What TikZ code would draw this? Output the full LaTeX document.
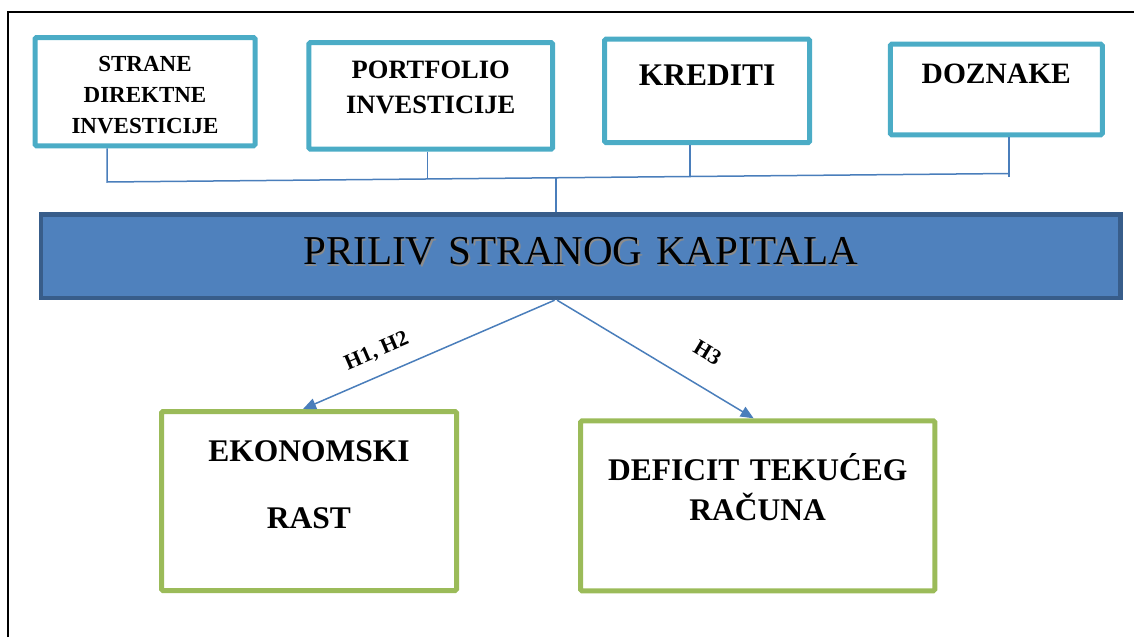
\documentclass[tikz,border=0pt]{standalone}
\usepackage{fontspec}
\setmainfont{Liberation Serif}
\usetikzlibrary{arrows.meta}
\tikzset{>={Triangle[length=13pt, width=11pt]}}
\definecolor{aqua}{HTML}{4BACC6}
\definecolor{bluefill}{HTML}{4F81BD}
\definecolor{blueedge}{HTML}{385D8A}
\definecolor{leaf}{HTML}{9BBB59}
\definecolor{wire}{HTML}{4A7EBB}
\newcommand{\fsz}[2]{\fontsize{#1}{#2}\selectfont}
\newcommand{\shadowed}[1]{\makebox[0pt][l]{\kern1.5pt\raisebox{-1.5pt}{\textcolor{black!45}{#1}}}#1}

\begin{document}
\begin{tikzpicture}[x = 1pt, y = -1pt,
    srcbox/.style = {draw = aqua, line width = 5pt, rounded corners = 1.5pt,
        inner sep = 0pt, align = center, anchor = north west},
    mainbox/.style = {draw = blueedge, fill = bluefill, line width = 4.5pt,
        inner sep = 0pt, align = center, anchor = north west},
    goalbox/.style = {draw = leaf, line width = 5pt, rounded corners = 1.5pt,
        inner sep = 0pt, align = center, anchor = north west},
    busline/.style = {draw = wire, line width = 1.5pt},
    flow/.style = {draw = wire, line width = 1.5pt, ->},
    hyp/.style = {font = \bfseries\fsz{22}{26}, inner sep = 0pt,
        text height = 14pt, text depth = 0pt}]
    \useasboundingbox (0,0) rectangle (1134,637);
    \draw[line width = 1.5pt] (8,637) -- (8,12) -- (1134,12);

    \node (sdi) at (32.5,35) [srcbox, text width = 220pt, text height = 33.5pt,
        text depth = 74.8pt, font = \bfseries\fsz{23}{31}]
        {STRANE\\DIREKTNE\\INVESTICIJE};
    \node (pinv) at (306.3,40) [srcbox, text width = 243.9pt, text height = 35.8pt,
        text depth = 70.9pt, font = \bfseries\fsz{26.5}{35}]
        {PORTFOLIO\\INVESTICIJE};
    \node (kred) at (602,36.7) [srcbox, text width = 205.2pt, text height = 45.8pt,
        text depth = 57.5pt, font = \bfseries\fsz{31.5}{38}] {KREDITI};
    \node (doz) at (887.8,41.7) [srcbox, text width = 212pt, text height = 39.1pt,
        text depth = 51.5pt, font = \bfseries\fsz{29.5}{36}] {DOZNAKE};

    \node (priliv) at (38.7,212.3) [mainbox, text width = 1079.3pt, text height = 50.2pt,
        text depth = 33.2pt, font = \fsz{41}{48}] {\shadowed{PRILIV STRANOG KAPITALA}};

    \node (ekon) at (159,409) [goalbox, text width = 295pt, text height = 50.2pt,
        text depth = 128.8pt, font = \bfseries\fsz{31.5}{66.6}]
        {EKONOMSKI\\RAST};
    \node (def) at (578,418.3) [goalbox, text width = 354.3pt, text height = 59.2pt,
        text depth = 110.8pt, font = \bfseries\fsz{31.5}{40}]
        {DEFICIT TEKUĆEG\\RAČUNA};

    \coordinate (busL) at (107,182);
    \coordinate (busR) at (1009,173.5);
    \coordinate (b2) at (427.5,179);
    \coordinate (b3) at (690,176.5);
    \coordinate (bc) at (556,177.8);
    \draw[busline] (sdi.south -| busL) -- (busL) -- (busR);
    \draw[busline] (doz.south -| busR) -- ++(0,40);
    \draw[busline] (pinv.south -| b2) -- (b2);
    \draw[busline] (kred.south -| b3) -- (b3);
    \draw[busline] (bc) -- (priliv.north -| bc);

    \draw[flow] ([xshift = -26pt]priliv.south) -- ([xshift = -6pt]ekon.north)
        node[hyp, pos = 0.67, sloped, above = 17pt] {H1, H2};
    \draw[flow] ([xshift = -23.5pt]priliv.south) -- ([xshift = -4pt]def.north)
        node[hyp, pos = 0.68, sloped, above = 24.6pt] {H3};
\end{tikzpicture}
\end{document}
